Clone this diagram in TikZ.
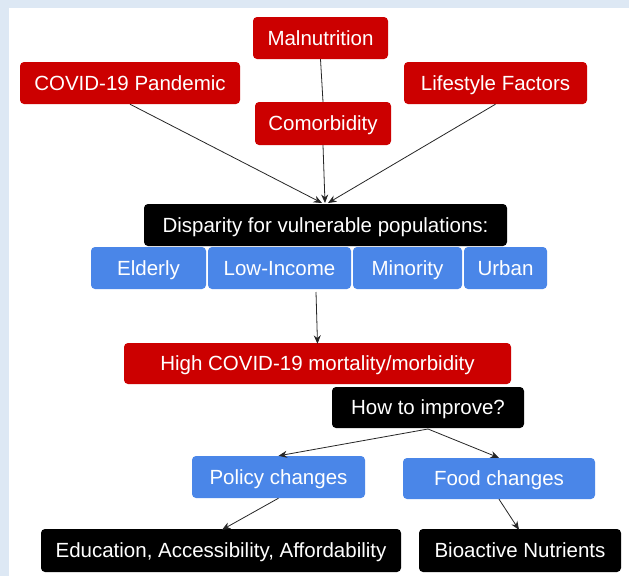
\documentclass[tikz,border=0pt]{standalone}
\usepackage{fontspec}
\setmainfont{Liberation Sans}
\usetikzlibrary{arrows.meta}
\definecolor{bgblue}{HTML}{DDE8F4}
\definecolor{gred}{HTML}{CC0000}
\definecolor{gblue}{HTML}{4A86E8}
\tikzset{
  box/.style={rounded corners=4pt, text=white, inner sep=0pt, text height=14.7pt, text depth=0pt, font=\fontsize{20.5}{24}\selectfont},
  redbox/.style={box, fill=gred},
  bluebox/.style={box, fill=gblue},
  blackbox/.style={box, fill=black},
  conn/.style={draw=black!85, line width=0.8pt, -{Stealth[length=8.5pt,width=7pt]}},
  plainconn/.style={draw=black!85, line width=0.8pt}
}
\begin{document}
\begin{tikzpicture}[x=1pt,y=-1pt]
\useasboundingbox (0,0) rectangle (629,576);
\fill[bgblue] (0,0) rectangle (629,576);
\fill[white] (9,8) rectangle (629,576);
% top red boxes
\node[redbox, minimum width=135pt, minimum height=42pt] (mal) at (320.5,38) {Malnutrition};
\node[redbox, minimum width=220pt, minimum height=42pt] (covid) at (130,83) {COVID-19 Pandemic};
\node[redbox, minimum width=136pt, minimum height=43pt] (comor) at (323,123.5) {Comorbidity};
\node[redbox, minimum width=183pt, minimum height=42pt] (life) at (495.5,83) {Lifestyle Factors};
% disparity
\node[blackbox, minimum width=363pt, minimum height=42pt] (disp) at (325.5,225) {Disparity for vulnerable populations:};
\node[bluebox, minimum width=115pt, minimum height=42pt] (elderly) at (148.5,268) {Elderly};
\node[bluebox, minimum width=143pt, minimum height=42pt] (lowinc) at (279.5,268) {Low-Income};
\node[bluebox, minimum width=109pt, minimum height=42pt] (minority) at (407.5,268) {Minority};
\node[bluebox, minimum width=83pt, minimum height=42pt] (urban) at (505.5,268) {Urban};
% high
\node[redbox, minimum width=387pt, minimum height=41pt] (high) at (317.5,363.5) {High COVID-19 mortality/morbidity};
\node[blackbox, minimum width=192pt, minimum height=41pt] (how) at (428,407.5) {How to improve?};
\node[bluebox, minimum width=173pt, minimum height=42pt] (policy) at (278.5,477) {Policy changes};
\node[bluebox, minimum width=192pt, minimum height=41pt] (food) at (499,478.5) {Food changes};
\node[blackbox, minimum width=360pt, minimum height=43pt] (edu) at (221,550.5) {Education, Accessibility, Affordability};
\node[blackbox, minimum width=202pt, minimum height=43pt] (bio) at (520,550.5) {Bioactive Nutrients};
% connectors
\coordinate (conv) at (325,203);
\draw[plainconn] (mal.south) -- (comor.north);
\draw[conn] (covid.south) -- ([xshift=-3pt]conv);
\draw[conn] (comor.south) -- (conv);
\draw[conn] (life.south) -- ([xshift=3pt]conv);
\coordinate (lowsrc) at (316,292);
\draw[conn] (lowsrc) -- ([yshift=-1pt]high.north);
\coordinate (howsrc) at (428,429);
\draw[conn] (howsrc) -- (policy.north);
\draw[conn] (howsrc) -- (food.north);
\draw[conn] (policy.south) -- ([xshift=1pt,yshift=-1pt]edu.north);
\draw[conn] (food.south) -- ([xshift=-1pt,yshift=-1pt]bio.north);
\end{tikzpicture}
\end{document}
